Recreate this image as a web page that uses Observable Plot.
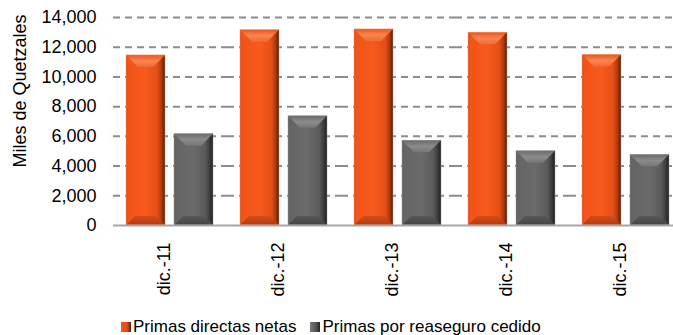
<!DOCTYPE html>
<html><head><meta charset="utf-8">
<script src="https://cdn.jsdelivr.net/npm/d3@7"></script>
<script src="https://cdn.jsdelivr.net/npm/@observablehq/plot@0.6"></script>
<style>
html,body{margin:0;padding:0;background:#fff;overflow:hidden;}
#wrap{position:relative;width:673px;height:335px;overflow:hidden;font-family:"Liberation Sans",Arial,sans-serif;}
#chart{position:absolute;left:0;top:0;width:685px;}
#chart svg{max-width:none !important;width:685px !important;height:316px !important;}
#ytitle{position:absolute;left:20px;top:91px;transform:translate(-50%,-50%) rotate(-90deg);font-size:18px;white-space:nowrap;color:#000;}
#legend{position:absolute;left:121px;top:317px;font-size:17px;line-height:20px;display:flex;align-items:center;white-space:nowrap;color:#000;}
#legend .sw{display:inline-block;width:10px;height:10px;margin-right:2px;}
#legend .item{display:flex;align-items:center;margin-right:14px;}
</style></head><body>
<div id="wrap"><div id="chart"></div><div id="ytitle">Miles de Quetzales</div><div id="legend"></div></div>
<script>
const categories = ["dic.-11","dic.-12","dic.-13","dic.-14","dic.-15"];
const seriesNames = ["Primas directas netas","Primas por reaseguro cedido"];
const primasDirectas = [11450,13150,13200,12970,11470];
const primasReaseguro = [6150,7350,5700,5000,4750];
const yTicks = [0,2000,4000,6000,8000,10000,12000,14000];

const data = categories.flatMap((c,i)=>[
  {cat:c, series:seriesNames[0], value:primasDirectas[i]},
  {cat:c, series:seriesNames[1], value:primasReaseguro[i]}
]);

const chart = Plot.plot({
  width: 685, height: 316,
  marginLeft: 111, marginRight: 0, marginTop: 17, marginBottom: 91,
  style: {fontFamily: "'Liberation Sans', Arial, sans-serif", fontSize: "18px", color: "#000", background: "transparent"},
  facet: {data, x: "cat", marginTop: 0, marginBottom: 0, marginLeft: 0, marginRight: 0},
  fx: {domain: categories, padding: 0, label: null, tickSize: 0, tickPadding: 13, tickRotate: -90, axis: "bottom"},
  x: {domain: seriesNames, paddingInner: 0.186, paddingOuter: 0.278, axis: null},
  y: {domain: [0,14000], ticks: yTicks, tickFormat: d3.format(","), tickSize: 0, tickPadding: 17, label: null},
  color: {type: "ordinal", domain: seriesNames, range: ["url(#gOrange)","url(#gGray)"]},
  marks: [
    Plot.ruleY(yTicks.filter(d=>d>0), {stroke:"#8c8c8c", strokeWidth:2, strokeDasharray:"7,5"}),
    Plot.barY(data, {x:"series", y:"value", fill:"series"}),
    Plot.ruleY([0], {stroke:"#a6a6a6", strokeWidth:2})
  ]
});

const svg = d3.select(chart);
const defs = svg.insert("defs", ":first-child");
function grad(id, stops, vertical){
  const g = defs.append("linearGradient").attr("id", id)
    .attr("x1",0).attr("y1",0).attr("x2", vertical?0:1).attr("y2", vertical?1:0);
  stops.forEach(([o,c,op])=>g.append("stop").attr("offset",o).attr("stop-color",c).attr("stop-opacity", op==null?1:op));
}
grad("gOrange", [[0,"#e04a18"],[0.06,"#f25419"],[0.5,"#f75a1c"],[0.8,"#e64f17"],[0.92,"#a8390e"],[1,"#4a1a06"]]);
grad("gGray", [[0,"#5e5e5e"],[0.06,"#656565"],[0.5,"#6a6a6a"],[0.8,"#5b5b5b"],[0.92,"#3a3a3a"],[1,"#1e1e1e"]]);
grad("gTopO", [[0,"#e8561f"],[0.5,"#fb8450"],[1,"#f26a30"]], true);
grad("gTopG", [[0,"#6a6a6a"],[0.5,"#8c8c8c"],[1,"#767676"]], true);
grad("gBotO", [[0,"#d84a16"],[1,"#b03c10"]], true);
grad("gBotG", [[0,"#585858"],[1,"#444444"]], true);

// bevel faces on each bar rect, derived from the rendered bar geometry
svg.selectAll("g[aria-label='bar'] rect").each(function(){
  const r = d3.select(this);
  const x = +r.attr("x"), y = +r.attr("y"), w = +r.attr("width"), h = +r.attr("height");
  const isOrange = (r.attr("fill")||"").includes("gOrange");
  const b = Math.min(12, h/4);
  const p = d3.select(this.parentNode);
  p.append("polygon")
    .attr("points", [[x,y],[x+w,y],[x+w-b,y+b],[x+b,y+b]].map(d=>d.join(",")).join(" "))
    .attr("fill", isOrange ? "url(#gTopO)" : "url(#gTopG)")
    .attr("transform", r.attr("transform"));
  const bb = Math.min(9, h/5);
  p.append("polygon")
    .attr("points", [[x+bb,y+h-bb],[x+w-bb,y+h-bb],[x+w,y+h],[x,y+h]].map(d=>d.join(",")).join(" "))
    .attr("fill", isOrange ? "url(#gBotO)" : "url(#gBotG)")
    .attr("transform", r.attr("transform"));
  p.append("rect").attr("x",x).attr("y",y).attr("width",w).attr("height",h)
    .attr("fill","none").attr("stroke", isOrange ? "#f7a27a" : "#a0a0a0").attr("stroke-width",0.8)
    .attr("stroke-opacity",0.6).attr("transform", r.attr("transform"));
});

// nudge the rotated category labels like the reference
svg.selectAll("text").filter(function(){ return categories.includes(this.textContent); })
  .each(function(){
    const t = d3.select(this);
    t.attr("transform", "translate(-6,4) " + (t.attr("transform") || ""));
  });

document.getElementById("chart").appendChild(chart);

const legend = d3.select("#legend");
const legendFills = ["linear-gradient(to right,#f25419,#e04e18 60%,#5a1e06)","linear-gradient(to right,#7a7a7a,#555 60%,#222)"];
seriesNames.forEach((s,i)=>{
  const it = legend.append("span").attr("class","item");
  it.append("span").attr("class","sw").style("background", legendFills[i]);
  it.append("span").text(s);
});
</script>
</body></html>
